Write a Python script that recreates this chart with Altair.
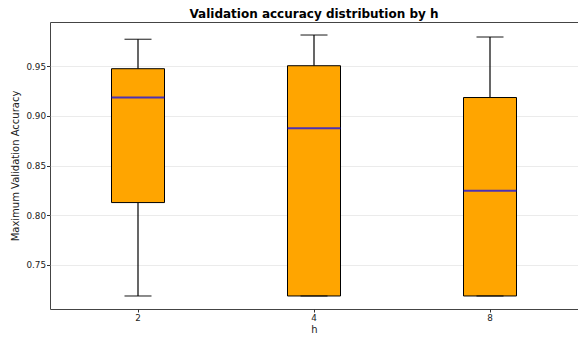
import altair as alt
import pandas as pd

categories = ["2", "4", "8"]
whisker_lo = [0.7187, 0.7187, 0.7187]
q1 = [0.8127, 0.7187, 0.7187]
median = [0.9184, 0.8874, 0.8247]
q3 = [0.9474, 0.9504, 0.9184]
whisker_hi = [0.9770, 0.9813, 0.9793]

df = pd.DataFrame({
    "h": categories,
    "lo": whisker_lo,
    "q1": q1,
    "med": median,
    "q3": q3,
    "hi": whisker_hi,
})

FONT = "DejaVu Sans"
xscale = alt.Scale(domain=categories, paddingInner=0, paddingOuter=0)
yscale = alt.Scale(domain=[0.7056, 0.9944], nice=False, zero=False)

x = alt.X("h:N", scale=xscale, sort=categories,
          axis=alt.Axis(title="h", labelAngle=0, grid=False, domain=False,
                        tickSize=3, tickColor="#333", labelFontSize=8.8,
                        labelColor="#222", titleFontSize=10, titleFontWeight="normal",
                        titleColor="#222", labelPadding=1, titlePadding=3,
                        labelFont=FONT, titleFont=FONT))
yax = alt.Axis(title="Maximum Validation Accuracy", values=[0.75, 0.80, 0.85, 0.90, 0.95],
               format=".2f", grid=True, gridColor="#ebebeb", gridWidth=1, domain=False,
               tickSize=3.5, tickColor="#333", labelFontSize=8.8, labelColor="#222",
               titleFontSize=10, titleFontWeight="normal", titleColor="#222",
               labelPadding=1, titlePadding=5, labelFont=FONT, titleFont=FONT)

base = alt.Chart(df)

whisk_lo = base.mark_rule(color="black", strokeWidth=1.2).encode(
    x=x, y=alt.Y("lo:Q", scale=yscale, axis=yax), y2="q1:Q")
whisk_hi = base.mark_rule(color="black", strokeWidth=1.2).encode(
    x=x, y=alt.Y("q3:Q", scale=yscale, axis=yax), y2="hi:Q")
cap_lo = base.mark_tick(color="black", size=27, thickness=1.3, orient="horizontal").encode(
    x=x, y=alt.Y("lo:Q", scale=yscale, axis=yax))
cap_hi = base.mark_tick(color="black", size=27, thickness=1.3, orient="horizontal").encode(
    x=x, y=alt.Y("hi:Q", scale=yscale, axis=yax))
box = base.mark_bar(size=53, color="#FFA500", stroke="black", strokeWidth=1).encode(
    x=x, y=alt.Y("q1:Q", scale=yscale, axis=yax), y2="q3:Q")
med = base.mark_tick(color="#0000FF", size=53, thickness=2, orient="horizontal").encode(
    x=x, y=alt.Y("med:Q", scale=yscale, axis=yax))

chart = alt.layer(whisk_lo, whisk_hi, box, cap_lo, cap_hi, med).properties(
    width=528, height=287,
    title=alt.TitleParams("Validation accuracy distribution by h", fontSize=12,
                          font=FONT, fontWeight="bold", anchor="middle", offset=1,
                          color="black"),
    autosize=alt.AutoSizeParams(type="none"),
    padding={"left": 42, "top": 14, "right": 0, "bottom": 27},
).configure_view(stroke="#444", strokeWidth=1)

chart.save("out.html", embed_options={"renderer": "svg", "actions": False})
